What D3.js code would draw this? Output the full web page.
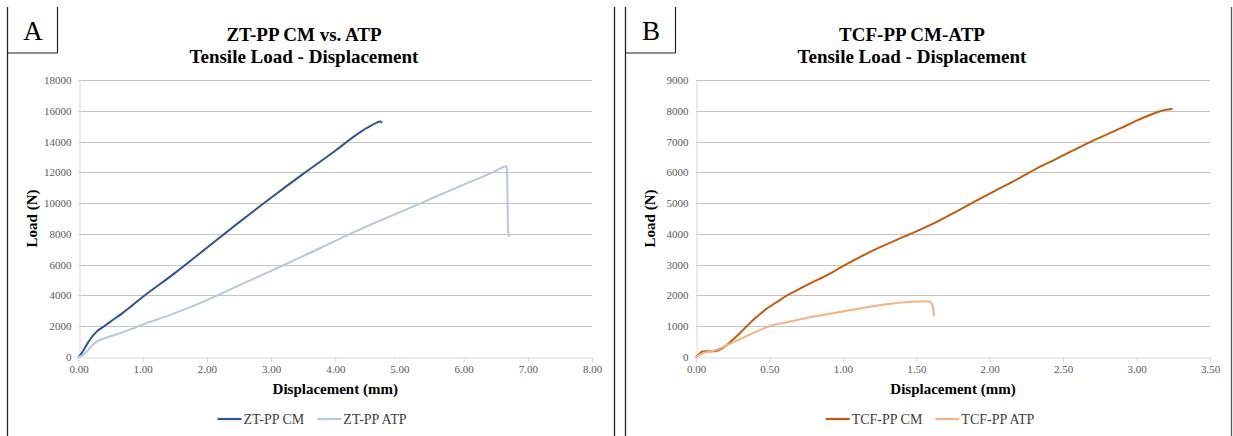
<!DOCTYPE html>
<html>
<head>
<meta charset="utf-8">
<script src="https://cdn.jsdelivr.net/npm/d3@7"></script>
<style>
  html, body { margin: 0; padding: 0; background: #fff; }
  svg { display: block; }
</style>
</head>
<body>
<svg id="chart" width="1233" height="436"></svg>
<script>
// ---------------- DATA ----------------
// Panel A: ZT-PP (displacement mm, load N)
const ztCmDisp = [0, 0.05, 0.1, 0.15, 0.2, 0.25, 0.3, 0.4, 0.5, 0.7, 1.0, 1.5, 2.0, 2.5, 3.0, 3.5, 4.0, 4.3, 4.5, 4.63, 4.7, 4.72];
const ztCmLoad = [0, 250, 600, 950, 1250, 1500, 1700, 2000, 2300, 2900, 3900, 5450, 7100, 8750, 10350, 11900, 13400, 14350, 14900, 15200, 15300, 15250];
const ztAtpDisp = [0, 0.05, 0.1, 0.15, 0.2, 0.25, 0.3, 0.4, 0.5, 0.75, 1.0, 1.5, 2.0, 2.5, 3.0, 3.5, 4.0, 4.5, 5.0, 5.5, 6.0, 6.5, 6.62, 6.66, 6.675, 6.68, 6.685, 6.69, 6.71];
const ztAtpLoad = [0, 80, 220, 450, 700, 900, 1050, 1200, 1350, 1700, 2100, 2850, 3700, 4650, 5600, 6550, 7550, 8500, 9400, 10300, 11200, 12100, 12350, 12400, 12300, 11500, 10000, 8300, 7850];

// Panel B: TCF-PP
const tcfCmDisp = [0, 0.02, 0.04, 0.06, 0.1, 0.13, 0.17, 0.2, 0.25, 0.3, 0.35, 0.4, 0.45, 0.49, 0.55, 0.62, 0.7, 0.78, 0.9, 1.0, 1.2, 1.46, 1.6, 1.8, 2.0, 2.2, 2.35, 2.45, 2.69, 2.9, 3.0, 3.1, 3.2, 3.24];
const tcfCmLoad = [0, 90, 170, 190, 185, 190, 260, 350, 560, 780, 1020, 1250, 1450, 1600, 1780, 2000, 2200, 2400, 2680, 2950, 3450, 4000, 4300, 4800, 5310, 5810, 6200, 6430, 7000, 7450, 7680, 7880, 8030, 8060];
const tcfAtpDisp = [0, 0.05, 0.1, 0.15, 0.2, 0.3, 0.4, 0.5, 0.6, 0.75, 1.0, 1.25, 1.4, 1.5, 1.58, 1.6, 1.61, 1.615, 1.62];
const tcfAtpLoad = [0, 130, 180, 250, 360, 580, 800, 1000, 1110, 1270, 1480, 1680, 1770, 1800, 1800, 1770, 1680, 1550, 1350];

// Ticks
const ztXTicks = [0, 1, 2, 3, 4, 5, 6, 7, 8];
const ztYTicks = [0, 2000, 4000, 6000, 8000, 10000, 12000, 14000, 16000, 18000];
const tcfXTicks = [0, 0.5, 1, 1.5, 2, 2.5, 3, 3.5];
const tcfYTicks = [0, 1000, 2000, 3000, 4000, 5000, 6000, 7000, 8000, 9000];

// Text
const ztTitle = ["ZT-PP CM vs. ATP", "Tensile Load - Displacement"];
const tcfTitle = ["TCF-PP CM-ATP", "Tensile Load - Displacement"];
const ztNames = ["ZT-PP CM", "ZT-PP ATP"];
const tcfNames = ["TCF-PP CM", "TCF-PP ATP"];

// ---------------- DRAW ----------------
const svg = d3.select("#chart");
const SERIF = "'Liberation Serif', 'Times New Roman', serif";

function zip(xs, ys) { return xs.map((x, i) => ({ x, y: ys[i] })); }

function panel(opt) {
  const g = svg.append("g");
  // Panel frame lines
  g.append("line").attr("x1", opt.left).attr("x2", opt.left).attr("y1", 7).attr("y2", 436)
    .attr("stroke", "#222").attr("stroke-width", 1.3);
  g.append("line").attr("x1", opt.right).attr("x2", opt.right).attr("y1", 7).attr("y2", 436)
    .attr("stroke", opt.rightColor).attr("stroke-width", 1.3);
  // Letter box
  g.append("line").attr("x1", opt.left + 50).attr("x2", opt.left + 50).attr("y1", 7).attr("y2", 53)
    .attr("stroke", "#222").attr("stroke-width", 1.2);
  g.append("line").attr("x1", opt.left).attr("x2", opt.left + 50).attr("y1", 53).attr("y2", 53)
    .attr("stroke", "#222").attr("stroke-width", 1.2);
  g.append("text").attr("x", opt.left + 25.5).attr("y", 40).attr("text-anchor", "middle")
    .attr("font-family", SERIF).attr("font-size", 27).attr("fill", "#000").text(opt.letter);

  const x = d3.scaleLinear().domain(opt.xDomain).range([opt.x0, opt.x1]);
  const y = d3.scaleLinear().domain(opt.yDomain).range([357, 80]);

  // Gridlines
  g.append("g").selectAll("line").data(opt.yTicks.filter(d => d > 0)).join("line")
    .attr("x1", opt.x0).attr("x2", opt.x1)
    .attr("y1", d => Math.round(y(d)) + 0.5).attr("y2", d => Math.round(y(d)) + 0.5)
    .attr("stroke", "#c4c4c4").attr("stroke-width", 1);

  // Y axis (line only, labels)
  const yAxis = d3.axisLeft(y).tickValues(opt.yTicks).tickSize(0).tickPadding(8).tickFormat(d3.format("d"));
  const ya = g.append("g").attr("transform", `translate(${Math.round(opt.x0) + 0.5},0)`).call(yAxis);
  ya.select(".domain").attr("stroke", "#d9d9d9");
  ya.selectAll("text").attr("font-family", SERIF).attr("font-size", 11).attr("fill", "#595959");

  // X axis
  const xAxis = d3.axisBottom(x).tickValues(opt.xTicks).tickSize(5).tickSizeOuter(0).tickPadding(3).tickFormat(d3.format(".2f"));
  const xa = g.append("g").attr("transform", `translate(0,${357.5})`).call(xAxis);
  xa.select(".domain").attr("stroke", "#d9d9d9");
  xa.selectAll(".tick line").attr("stroke", "#d9d9d9");
  xa.selectAll("text").attr("font-family", SERIF).attr("font-size", 11).attr("fill", "#595959");

  // Series
  const line = d3.line().curve(d3.curveMonotoneX).x(d => x(d.x)).y(d => y(d.y));
  opt.series.forEach(s => {
    g.append("path").datum(s.data).attr("d", line)
      .attr("fill", "none").attr("stroke", s.color).attr("stroke-width", 2)
      .attr("stroke-linejoin", "round").attr("stroke-linecap", "round");
  });

  // Titles
  g.append("text").attr("x", opt.titleX).attr("y", 41).attr("text-anchor", "middle")
    .attr("font-family", SERIF).attr("font-weight", "bold").attr("font-size", 19).attr("fill", "#000").text(opt.title[0]);
  g.append("text").attr("x", opt.titleX).attr("y", 63).attr("text-anchor", "middle")
    .attr("font-family", SERIF).attr("font-weight", "bold").attr("font-size", 19).attr("fill", "#000").text(opt.title[1]);

  // Axis titles
  g.append("text").attr("x", (opt.x0 + opt.x1) / 2).attr("y", 394).attr("text-anchor", "middle")
    .attr("font-family", SERIF).attr("font-weight", "bold").attr("font-size", 15).attr("fill", "#000")
    .text("Displacement (mm)");
  g.append("text").attr("transform", `translate(${opt.left + 29},218.5) rotate(-90)`).attr("text-anchor", "middle")
    .attr("font-family", SERIF).attr("font-weight", "bold").attr("font-size", 15).attr("fill", "#000")
    .text("Load (N)");

  // Legend
  const lg = g.append("g");
  let cur = 0;
  opt.series.forEach((s, i) => {
    const it = lg.append("g");
    it.append("line").attr("x1", 0).attr("x2", 24).attr("y1", 0).attr("y2", 0)
      .attr("stroke", s.color).attr("stroke-width", 2.2);
    const t = it.append("text").attr("x", 26).attr("y", 5).attr("font-family", SERIF)
      .attr("font-size", 14).attr("fill", "#404040").text(s.name);
    const w = 26 + t.node().getComputedTextLength();
    it.attr("transform", `translate(${cur},419)`);
    cur += w + (i < opt.series.length - 1 ? 13 : 0);
  });
  lg.attr("transform", `translate(${opt.legendCx - cur / 2},0)`);
}

panel({
  letter: "A", left: 7.5, right: 614.5, rightColor: "#222",
  x0: 78.5, x1: 592, xDomain: [0, 8], yDomain: [0, 18000],
  xTicks: ztXTicks, yTicks: ztYTicks, title: ztTitle, titleX: 304, legendCx: 312,
  series: [
    { name: ztNames[0], color: "#2f5597", data: zip(ztCmDisp, ztCmLoad) },
    { name: ztNames[1], color: "#b4c7e7", data: zip(ztAtpDisp, ztAtpLoad) }
  ]
});

panel({
  letter: "B", left: 625.5, right: 1231.5, rightColor: "#555",
  x0: 696, x1: 1210, xDomain: [0, 3.5], yDomain: [0, 9000],
  xTicks: tcfXTicks, yTicks: tcfYTicks, title: tcfTitle, titleX: 912, legendCx: 930,
  series: [
    { name: tcfNames[0], color: "#c55a11", data: zip(tcfCmDisp, tcfCmLoad) },
    { name: tcfNames[1], color: "#f4b183", data: zip(tcfAtpDisp, tcfAtpLoad) }
  ]
});
</script>
</body>
</html>
